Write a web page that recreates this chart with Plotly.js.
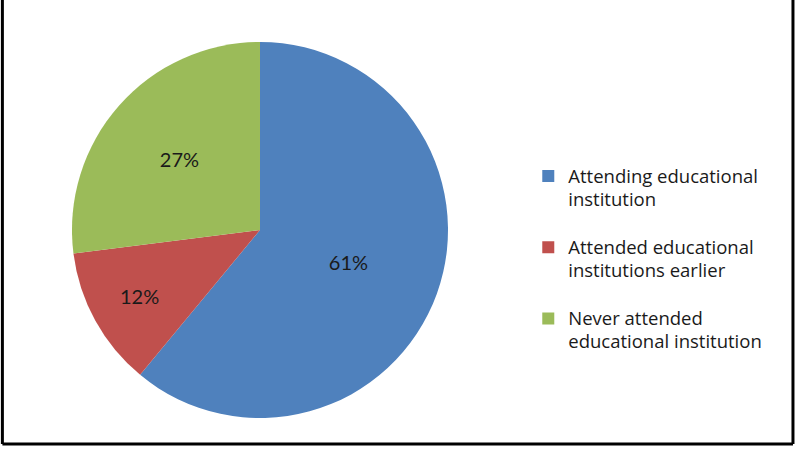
<!DOCTYPE html>
<html>
<head>
<meta charset="utf-8">
<script src="https://cdn.plot.ly/plotly-3.0.1.min.js"></script>
<style>html,body{margin:0;padding:0;background:#fff;}#chart{width:798px;height:449px;}</style>
</head>
<body>
<div id="chart"></div>
<script>
const categories = [
  "Attending educational<br>institution<br> ",
  "Attended educational<br>institutions earlier<br> ",
  "Never attended<br>educational institution<br> "
];
const shares = [61, 12, 27];
const sliceColors = ["#4F81BD", "#C0504D", "#9BBB59"];

// slightly larger legend glyphs while keeping Plotly's line spacing from the base font
const legendLabels = categories.map(c =>
  c.split("<br>").map(part => part.trim() ? "<span style='font-size:18.5px'>" + part + "</span>" : part).join("<br>")
);

const trace = {
  type: "pie",
  labels: legendLabels,
  values: shares,
  sort: false,
  direction: "clockwise",
  rotation: 0,
  marker: {colors: sliceColors, line: {width: 0}},
  texttemplate: "%{percent:.0%}",
  textposition: "inside",
  insidetextorientation: "horizontal",
  textfont: {family: "Lato, 'Open Sans', sans-serif", size: 20, color: "#1a1a1a"},
  hoverinfo: "label+percent",
  domain: {x: [0.0902, 0.5614], y: [0.069, 0.9065]}
};

const layout = {
  width: 798,
  height: 449,
  margin: {l: 0, r: 0, t: 0, b: 0},
  paper_bgcolor: "#ffffff",
  showlegend: true,
  legend: {
    x: 0.662, y: 0.648, xanchor: "left", yanchor: "top",
    valign: "top",
    font: {family: "'Open Sans', Lato, sans-serif", size: 17.5, color: "#1a1a1a"},
    bgcolor: "rgba(0,0,0,0)"
  },
  shapes: [
    {type: "line", xref: "paper", yref: "paper", x0: 0.003, x1: 0.003, y0: 0.011, y1: 1.05, line: {color: "#000", width: 3}},
    {type: "line", xref: "paper", yref: "paper", x0: 0.9937, x1: 0.9937, y0: 0.011, y1: 1.05, line: {color: "#000", width: 3}},
    {type: "line", xref: "paper", yref: "paper", x0: 0.003, x1: 0.9937, y0: 0.011, y1: 0.011, line: {color: "#000", width: 3}}
  ]
};

Plotly.newPlot("chart", [trace], layout, {displayModeBar: false, staticPlot: true});
</script>
</body>
</html>
